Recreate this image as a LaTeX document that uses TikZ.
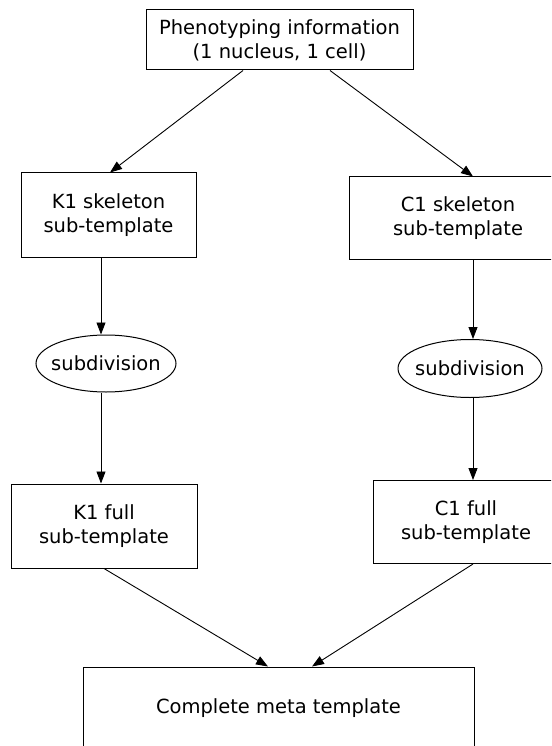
\documentclass[tikz,border=0pt]{standalone}
\usepackage{fontspec}
\setmainfont{DejaVu Sans}
\usetikzlibrary{arrows.meta,calc,shapes.geometric}
\begin{document}
\begin{tikzpicture}[x=1pt,y=-1pt,
  every node/.style={font=\fontsize{19.5}{24}\selectfont, align=center, inner sep=0pt, line width=1pt},
  box/.style={draw, rectangle},
  oval/.style={draw, ellipse, inner xsep=-6pt},
  arr/.style={line width=0.9pt, -{Triangle[length=12pt,width=9pt]}}]
\useasboundingbox (0,0) rectangle (551,746);
\clip (0,0) rectangle (551,746);
\node[box, minimum width=267, minimum height=60] (top) at (279.5,40) {Phenotyping information\\(1 nucleus, 1 cell)};
\node[box, minimum width=175, minimum height=84] (k1s) at (108.5,215) {K1 skeleton\\sub-template};
\node[box, minimum width=218, minimum height=82] (c1s) at (458,218) {C1 skeleton\\sub-template};
\node[oval, minimum width=140, minimum height=57] (e1) at (106,363.5) {subdivision};
\node[oval, minimum width=144, minimum height=58] (e2) at (470,368.5) {subdivision};
\node[box, minimum width=186, minimum height=84] (k1f) at (104,526) {K1 full\\sub-template};
\node[box, minimum width=186, minimum height=83] (c1f) at (466,522) {C1 full\\sub-template};
\node[box, minimum width=391, minimum height=82] (meta) at (278.5,708) {Complete meta template};
\draw[arr] ($(top.south)+(-36.5,0)$) -- ($(k1s.north)+(1.5,0)$);
\draw[arr] ($(top.south)+(50.5,0)$) -- ($(c1s.north)+(15,0)$);
\draw[arr] ($(k1s.south)+(-7.5,0)$) -- ($(e1.north)+(-5,0)$);
\draw[arr] ($(e1.south)+(-5,0)$) -- ($(k1f.north)+(-3,0)$);
\draw[arr] ($(c1s.south)+(15,0)$) -- ($(e2.north)+(3,0)$);
\draw[arr] ($(e2.south)+(3,0)$) -- ($(c1f.north)+(7,0)$);
\draw[arr] (k1f.south) -- ($(meta.north)+(-10.5,0)$);
\draw[arr] ($(c1f.south)+(7,0)$) -- ($(meta.north)+(33.5,0)$);
\end{tikzpicture}
\end{document}
